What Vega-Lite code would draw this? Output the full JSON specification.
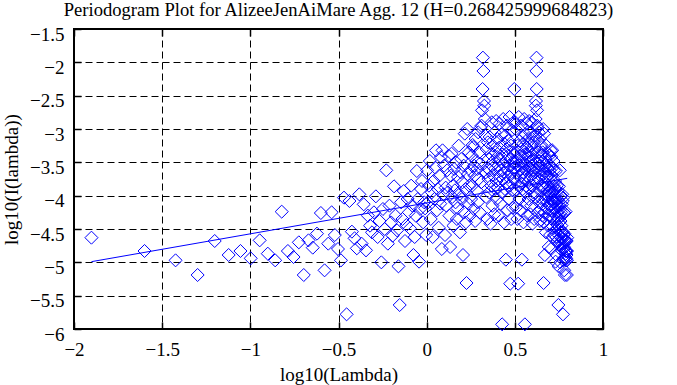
{
"$schema":"https://vega.github.io/schema/vega-lite/v6.json",
"width":529,"height":300,
"autosize":{"type":"none"},
"padding":{"left":74,"top":29,"right":74,"bottom":56},
"title":{"text":"Periodogram Plot for AlizeeJenAiMare Agg. 12 (H=0.268425999684823)","font":"Liberation Serif","fontSize":18.6,"fontWeight":"normal","color":"black","anchor":"middle","frame":"group","baseline":"alphabetic","offset":-10},
"config":{"view":{"stroke":"black","strokeWidth":2},
"axis":{"labelFont":"Liberation Serif","labelFontSize":19,"labelColor":"black","titleFont":"Liberation Serif","titleFontSize":19,"titleFontWeight":"normal","titleColor":"black","tickColor":"black","tickWidth":1.5,"domain":false,"labelOverlap":false}},
"datasets":{
"pts":[
{"x":-1.901,"y":-4.63},{"x":-1.600,"y":-4.83},{"x":-1.424,"y":-4.97},{"x":-1.299,"y":-5.19},{"x":-1.202,"y":-4.68},{"x":-1.123,"y":-4.89},{"x":-1.056,"y":-4.83},{"x":-0.998,"y":-4.94},{"x":-0.947,"y":-4.67},{"x":-0.901,"y":-4.87},
{"x":-0.859,"y":-4.97},{"x":-0.822,"y":-4.24},{"x":-0.787,"y":-4.83},{"x":-0.755,"y":-4.92},{"x":-0.725,"y":-4.70},{"x":-0.697,"y":-5.19},{"x":-0.670,"y":-4.67},{"x":-0.646,"y":-4.78},{"x":-0.622,"y":-4.57},{"x":-0.600,"y":-4.26},
{"x":-0.579,"y":-5.12},{"x":-0.558,"y":-4.72},{"x":-0.539,"y":-4.25},{"x":-0.521,"y":-4.59},{"x":-0.503,"y":-4.80},{"x":-0.486,"y":-4.97},{"x":-0.469,"y":-4.03},{"x":-0.454,"y":-5.78},{"x":-0.438,"y":-4.08},{"x":-0.424,"y":-4.54},
{"x":-0.409,"y":-4.64},{"x":-0.396,"y":-4.79},{"x":-0.382,"y":-3.98},{"x":-0.369,"y":-4.72},{"x":-0.357,"y":-4.13},{"x":-0.344,"y":-4.82},{"x":-0.333,"y":-4.30},{"x":-0.321,"y":-4.45},{"x":-0.310,"y":-4.55},{"x":-0.299,"y":-4.25},
{"x":-0.288,"y":-4.01},{"x":-0.278,"y":-4.62},{"x":-0.267,"y":-4.38},{"x":-0.257,"y":-5.00},{"x":-0.248,"y":-4.20},{"x":-0.238,"y":-4.50},{"x":-0.229,"y":-3.62},{"x":-0.220,"y":-4.72},{"x":-0.211,"y":-4.15},{"x":-0.202,"y":-4.40},
{"x":-0.193,"y":-4.60},{"x":-0.185,"y":-3.86},{"x":-0.177,"y":-4.30},{"x":-0.168,"y":-4.52},{"x":-0.160,"y":-5.06},{"x":-0.153,"y":-5.64},{"x":-0.145,"y":-4.10},{"x":-0.137,"y":-4.35},{"x":-0.130,"y":-3.93},{"x":-0.123,"y":-4.68},
{"x":-0.115,"y":-4.44},{"x":-0.108,"y":-4.05},{"x":-0.101,"y":-4.25},{"x":-0.095,"y":-4.49},{"x":-0.088,"y":-3.85},{"x":-0.081,"y":-4.15},{"x":-0.075,"y":-4.89},{"x":-0.068,"y":-4.62},{"x":-0.062,"y":-4.30},{"x":-0.056,"y":-3.63},
{"x":-0.050,"y":-4.05},{"x":-0.043,"y":-4.99},{"x":-0.037,"y":-4.20},{"x":-0.032,"y":-3.90},{"x":-0.026,"y":-3.78},{"x":-0.020,"y":-4.40},{"x":-0.014,"y":-4.10},{"x":-0.009,"y":-4.19},{"x":-0.003,"y":-4.59},{"x":0.002,"y":-3.62},
{"x":0.008,"y":-4.10},{"x":0.013,"y":-3.85},{"x":0.018,"y":-3.48},{"x":0.023,"y":-4.35},{"x":0.029,"y":-3.95},{"x":0.034,"y":-4.62},{"x":0.039,"y":-3.78},{"x":0.044,"y":-4.05},{"x":0.049,"y":-3.58},{"x":0.053,"y":-3.32},
{"x":0.058,"y":-4.22},{"x":0.063,"y":-3.90},{"x":0.068,"y":-4.48},{"x":0.072,"y":-3.70},{"x":0.077,"y":-4.12},{"x":0.081,"y":-3.42},{"x":0.086,"y":-4.80},{"x":0.090,"y":-3.32},{"x":0.095,"y":-3.98},{"x":0.099,"y":-3.55},
{"x":0.104,"y":-4.59},{"x":0.108,"y":-3.88},{"x":0.112,"y":-4.15},{"x":0.116,"y":-3.62},{"x":0.120,"y":-3.95},{"x":0.125,"y":-3.40},{"x":0.129,"y":-4.30},{"x":0.133,"y":-4.77},{"x":0.137,"y":-3.70},{"x":0.141,"y":-3.37},
{"x":0.145,"y":-4.02},{"x":0.148,"y":-3.85},{"x":0.152,"y":-4.45},{"x":0.156,"y":-3.60},{"x":0.160,"y":-3.92},{"x":0.164,"y":-4.10},{"x":0.167,"y":-3.50},{"x":0.171,"y":-4.35},{"x":0.175,"y":-4.19},{"x":0.178,"y":-3.72},
{"x":0.182,"y":-3.25},{"x":0.186,"y":-3.98},{"x":0.189,"y":-4.55},{"x":0.193,"y":-3.65},{"x":0.196,"y":-3.45},{"x":0.200,"y":-4.05},{"x":0.203,"y":-3.80},{"x":0.206,"y":-4.89},{"x":0.210,"y":-3.55},{"x":0.213,"y":-4.25},
{"x":0.216,"y":-3.07},{"x":0.220,"y":-3.90},{"x":0.223,"y":-4.40},{"x":0.226,"y":-5.31},{"x":0.230,"y":-3.00},{"x":0.233,"y":-3.68},{"x":0.236,"y":-4.12},{"x":0.239,"y":-3.35},{"x":0.242,"y":-3.85},{"x":0.245,"y":-4.30},
{"x":0.248,"y":-3.62},{"x":0.252,"y":-4.05},{"x":0.255,"y":-3.40},{"x":0.258,"y":-3.85},{"x":0.261,"y":-3.24},{"x":0.264,"y":-3.27},{"x":0.267,"y":-4.20},{"x":0.269,"y":-3.55},{"x":0.272,"y":-3.70},{"x":0.275,"y":-4.38},
{"x":0.278,"y":-3.15},{"x":0.281,"y":-3.48},{"x":0.284,"y":-3.92},{"x":0.287,"y":-3.60},{"x":0.290,"y":-4.10},{"x":0.292,"y":-3.05},{"x":0.295,"y":-3.75},{"x":0.298,"y":-3.35},{"x":0.301,"y":-4.25},{"x":0.303,"y":-3.52},
{"x":0.306,"y":-2.98},{"x":0.309,"y":-3.80},{"x":0.311,"y":-2.95},{"x":0.314,"y":-2.72},{"x":0.317,"y":-2.40},{"x":0.319,"y":-1.93},{"x":0.322,"y":-2.13},{"x":0.325,"y":-2.58},{"x":0.327,"y":-2.65},{"x":0.330,"y":-2.85},
{"x":0.332,"y":-3.10},{"x":0.335,"y":-3.65},{"x":0.337,"y":-4.02},{"x":0.340,"y":-3.30},{"x":0.342,"y":-3.58},{"x":0.345,"y":-4.35},{"x":0.347,"y":-3.20},{"x":0.350,"y":-3.75},{"x":0.352,"y":-3.45},{"x":0.354,"y":-3.95},
{"x":0.357,"y":-3.12},{"x":0.359,"y":-3.62},{"x":0.362,"y":-4.42},{"x":0.364,"y":-3.38},{"x":0.366,"y":-3.85},{"x":0.369,"y":-2.90},{"x":0.371,"y":-3.55},{"x":0.373,"y":-4.15},{"x":0.376,"y":-3.25},{"x":0.378,"y":-3.70},
{"x":0.380,"y":-3.48},{"x":0.383,"y":-4.28},{"x":0.385,"y":-3.05},{"x":0.387,"y":-3.60},{"x":0.389,"y":-3.90},{"x":0.391,"y":-3.35},{"x":0.394,"y":-2.88},{"x":0.396,"y":-3.78},{"x":0.398,"y":-4.05},{"x":0.400,"y":-3.42},
{"x":0.402,"y":-3.15},{"x":0.405,"y":-3.88},{"x":0.407,"y":-3.55},{"x":0.409,"y":-4.30},{"x":0.411,"y":-3.28},{"x":0.413,"y":-2.92},{"x":0.415,"y":-3.70},{"x":0.417,"y":-3.45},{"x":0.419,"y":-4.12},{"x":0.421,"y":-3.62},
{"x":0.423,"y":-3.08},{"x":0.426,"y":-3.95},{"x":0.428,"y":-5.93},{"x":0.430,"y":-3.38},{"x":0.432,"y":-3.75},{"x":0.434,"y":-2.85},{"x":0.436,"y":-3.52},{"x":0.438,"y":-4.40},{"x":0.440,"y":-3.22},{"x":0.442,"y":-3.65},
{"x":0.444,"y":-3.90},{"x":0.446,"y":-3.10},{"x":0.448,"y":-3.48},{"x":0.449,"y":-4.96},{"x":0.451,"y":-3.82},{"x":0.453,"y":-3.30},{"x":0.455,"y":-2.95},{"x":0.457,"y":-3.60},{"x":0.459,"y":-4.22},{"x":0.461,"y":-3.40},
{"x":0.463,"y":-3.72},{"x":0.465,"y":-3.18},{"x":0.467,"y":-4.05},{"x":0.468,"y":-3.55},{"x":0.470,"y":-2.82},{"x":0.472,"y":-3.85},{"x":0.474,"y":-5.32},{"x":0.476,"y":-3.45},{"x":0.478,"y":-3.25},{"x":0.479,"y":-4.35},
{"x":0.481,"y":-3.65},{"x":0.483,"y":-3.02},{"x":0.485,"y":-3.92},{"x":0.487,"y":-3.50},{"x":0.488,"y":-4.18},{"x":0.490,"y":-3.35},{"x":0.492,"y":-2.90},{"x":0.494,"y":-3.75},{"x":0.495,"y":-3.58},{"x":0.497,"y":-2.40},
{"x":0.499,"y":-3.58},{"x":0.501,"y":-3.75},{"x":0.502,"y":-2.90},{"x":0.504,"y":-3.35},{"x":0.506,"y":-4.18},{"x":0.507,"y":-3.50},{"x":0.509,"y":-3.92},{"x":0.511,"y":-3.02},{"x":0.513,"y":-3.65},{"x":0.514,"y":-4.35},
{"x":0.516,"y":-3.25},{"x":0.518,"y":-3.45},{"x":0.519,"y":-5.32},{"x":0.521,"y":-3.85},{"x":0.522,"y":-2.82},{"x":0.524,"y":-3.55},{"x":0.526,"y":-4.05},{"x":0.527,"y":-3.18},{"x":0.529,"y":-3.72},{"x":0.531,"y":-3.40},
{"x":0.532,"y":-4.22},{"x":0.534,"y":-3.60},{"x":0.535,"y":-2.95},{"x":0.537,"y":-3.30},{"x":0.539,"y":-3.82},{"x":0.540,"y":-4.96},{"x":0.542,"y":-3.48},{"x":0.543,"y":-3.10},{"x":0.545,"y":-3.90},{"x":0.546,"y":-3.65},
{"x":0.548,"y":-3.22},{"x":0.549,"y":-4.40},{"x":0.551,"y":-3.52},{"x":0.553,"y":-2.85},{"x":0.554,"y":-3.75},{"x":0.556,"y":-3.38},{"x":0.557,"y":-5.93},{"x":0.559,"y":-3.95},{"x":0.560,"y":-3.08},{"x":0.562,"y":-3.62},
{"x":0.563,"y":-4.12},{"x":0.565,"y":-3.45},{"x":0.566,"y":-3.70},{"x":0.568,"y":-2.92},{"x":0.569,"y":-3.28},{"x":0.571,"y":-4.30},{"x":0.572,"y":-3.55},{"x":0.573,"y":-3.88},{"x":0.575,"y":-3.15},{"x":0.576,"y":-3.42},
{"x":0.578,"y":-4.05},{"x":0.579,"y":-3.78},{"x":0.581,"y":-2.88},{"x":0.582,"y":-3.35},{"x":0.584,"y":-3.90},{"x":0.585,"y":-3.60},{"x":0.586,"y":-3.05},{"x":0.588,"y":-4.28},{"x":0.589,"y":-3.48},{"x":0.591,"y":-3.70},
{"x":0.592,"y":-3.25},{"x":0.593,"y":-4.15},{"x":0.595,"y":-3.55},{"x":0.596,"y":-2.90},{"x":0.598,"y":-3.85},{"x":0.599,"y":-3.38},{"x":0.600,"y":-4.42},{"x":0.602,"y":-3.62},{"x":0.603,"y":-3.12},{"x":0.604,"y":-3.95},
{"x":0.606,"y":-3.45},{"x":0.607,"y":-3.75},{"x":0.608,"y":-3.20},{"x":0.610,"y":-4.35},{"x":0.611,"y":-3.58},{"x":0.612,"y":-3.30},{"x":0.614,"y":-4.02},{"x":0.615,"y":-3.65},{"x":0.616,"y":-3.10},{"x":0.618,"y":-2.85},
{"x":0.619,"y":-2.65},{"x":0.620,"y":-2.58},{"x":0.622,"y":-2.13},{"x":0.623,"y":-1.93},{"x":0.624,"y":-2.40},{"x":0.626,"y":-2.72},{"x":0.627,"y":-2.95},{"x":0.628,"y":-3.80},{"x":0.629,"y":-2.98},{"x":0.631,"y":-3.52},
{"x":0.632,"y":-4.25},{"x":0.633,"y":-3.35},{"x":0.635,"y":-3.75},{"x":0.636,"y":-3.05},{"x":0.637,"y":-4.10},{"x":0.638,"y":-3.60},{"x":0.640,"y":-3.92},{"x":0.641,"y":-3.48},{"x":0.642,"y":-3.15},{"x":0.643,"y":-4.38},
{"x":0.645,"y":-3.70},{"x":0.646,"y":-3.55},{"x":0.647,"y":-4.20},{"x":0.648,"y":-3.27},{"x":0.649,"y":-3.24},{"x":0.651,"y":-3.85},{"x":0.652,"y":-3.40},{"x":0.653,"y":-4.05},{"x":0.654,"y":-3.62},{"x":0.656,"y":-4.30},
{"x":0.657,"y":-3.85},{"x":0.658,"y":-3.35},{"x":0.659,"y":-4.12},{"x":0.660,"y":-3.68},{"x":0.661,"y":-3.00},{"x":0.663,"y":-5.31},{"x":0.664,"y":-4.40},{"x":0.665,"y":-3.90},{"x":0.666,"y":-3.07},{"x":0.667,"y":-4.25},
{"x":0.669,"y":-3.55},{"x":0.670,"y":-4.89},{"x":0.671,"y":-3.80},{"x":0.672,"y":-4.05},{"x":0.673,"y":-3.45},{"x":0.674,"y":-3.65},{"x":0.676,"y":-4.55},{"x":0.677,"y":-3.98},{"x":0.678,"y":-3.25},{"x":0.679,"y":-3.72},
{"x":0.680,"y":-4.19},{"x":0.681,"y":-4.35},{"x":0.682,"y":-3.50},{"x":0.684,"y":-4.10},{"x":0.685,"y":-3.92},{"x":0.686,"y":-3.60},{"x":0.687,"y":-4.45},{"x":0.688,"y":-3.85},{"x":0.689,"y":-4.02},{"x":0.690,"y":-3.37},
{"x":0.691,"y":-3.70},{"x":0.692,"y":-4.77},{"x":0.694,"y":-4.30},{"x":0.695,"y":-3.40},{"x":0.696,"y":-3.95},{"x":0.697,"y":-3.62},{"x":0.698,"y":-4.15},{"x":0.699,"y":-3.88},{"x":0.700,"y":-4.59},{"x":0.701,"y":-3.55},
{"x":0.702,"y":-3.98},{"x":0.703,"y":-3.32},{"x":0.705,"y":-4.80},{"x":0.706,"y":-3.42},{"x":0.707,"y":-4.12},{"x":0.708,"y":-3.70},{"x":0.709,"y":-4.48},{"x":0.710,"y":-3.90},{"x":0.711,"y":-4.22},{"x":0.712,"y":-3.32},
{"x":0.713,"y":-3.58},{"x":0.714,"y":-4.05},{"x":0.715,"y":-3.78},{"x":0.716,"y":-4.62},{"x":0.717,"y":-3.95},{"x":0.718,"y":-4.35},{"x":0.719,"y":-3.48},{"x":0.720,"y":-3.85},{"x":0.721,"y":-4.10},{"x":0.722,"y":-3.62},
{"x":0.723,"y":-4.59},{"x":0.725,"y":-4.19},{"x":0.726,"y":-4.10},{"x":0.727,"y":-4.40},{"x":0.728,"y":-3.78},{"x":0.729,"y":-3.90},{"x":0.730,"y":-4.20},{"x":0.731,"y":-4.99},{"x":0.732,"y":-4.05},{"x":0.733,"y":-3.63},
{"x":0.734,"y":-4.30},{"x":0.735,"y":-4.62},{"x":0.736,"y":-4.89},{"x":0.737,"y":-4.15},{"x":0.738,"y":-3.85},{"x":0.739,"y":-4.49},{"x":0.740,"y":-4.25},{"x":0.741,"y":-4.05},{"x":0.742,"y":-4.44},{"x":0.743,"y":-4.68},
{"x":0.744,"y":-3.93},{"x":0.745,"y":-4.35},{"x":0.746,"y":-4.10},{"x":0.747,"y":-5.64},{"x":0.748,"y":-5.06},{"x":0.749,"y":-4.52},{"x":0.750,"y":-4.30},{"x":0.750,"y":-3.86},{"x":0.751,"y":-4.60},{"x":0.752,"y":-4.40},
{"x":0.753,"y":-4.15},{"x":0.754,"y":-4.72},{"x":0.755,"y":-3.62},{"x":0.756,"y":-4.50},{"x":0.757,"y":-4.20},{"x":0.758,"y":-5.00},{"x":0.759,"y":-4.38},{"x":0.760,"y":-4.62},{"x":0.761,"y":-4.01},{"x":0.762,"y":-4.25},
{"x":0.763,"y":-4.55},{"x":0.764,"y":-4.45},{"x":0.765,"y":-4.30},{"x":0.766,"y":-4.82},{"x":0.767,"y":-4.13},{"x":0.768,"y":-4.72},{"x":0.769,"y":-3.98},{"x":0.769,"y":-4.79},{"x":0.770,"y":-4.64},{"x":0.771,"y":-4.54},
{"x":0.772,"y":-4.08},{"x":0.773,"y":-5.78},{"x":0.774,"y":-4.03},{"x":0.775,"y":-4.97},{"x":0.776,"y":-4.80},{"x":0.777,"y":-4.59},{"x":0.778,"y":-4.25},{"x":0.779,"y":-4.72},{"x":0.780,"y":-5.12},{"x":0.780,"y":-4.26},
{"x":0.781,"y":-4.57},{"x":0.782,"y":-4.78},{"x":0.783,"y":-4.67},{"x":0.784,"y":-5.19},{"x":0.785,"y":-4.70},{"x":0.786,"y":-4.92},{"x":0.787,"y":-4.83},{"x":0.788,"y":-4.24},{"x":0.789,"y":-4.97},{"x":0.789,"y":-4.87},
{"x":0.790,"y":-4.67},{"x":0.791,"y":-4.94},{"x":0.792,"y":-4.83},{"x":0.793,"y":-4.89},{"x":0.794,"y":-4.68},{"x":0.795,"y":-5.19},{"x":0.796,"y":-4.97},{"x":0.796,"y":-4.83},{"x":0.797,"y":-4.63}
],
"fit":[{"x":-1.901,"y":-4.99},{"x":0.797,"y":-3.74}]
},
"layer":[
{"data":{"name":"pts"},
"mark":{"type":"point","shape":"diamond","size":170,"filled":false,"color":"#0000ff","strokeWidth":1,"opacity":1},
"encoding":{
"x":{"field":"x","type":"quantitative","scale":{"domain":[-2,1],"nice":false,"zero":false},
"axis":{"orient":"bottom","values":[-2,-1.5,-1,-0.5,0,0.5,1],"format":"~g","grid":true,"gridColor":"black","gridDash":[7,4],"gridWidth":1,"gridOpacity":1,"tickSize":-7,"labelPadding":33,"labelBaseline":"alphabetic","labelFlush":false,"labelFont":"Liberation Serif","labelFontSize":19,"title":"log10(Lambda)","titleBaseline":"alphabetic","titleX":264.5,"titleY":51,"titleAnchor":"middle"}},
"y":{"field":"y","type":"quantitative","scale":{"domain":[-6,-1.5],"nice":false,"zero":false},
"axis":{"orient":"left","values":[-6,-5.5,-5,-4.5,-4,-3.5,-3,-2.5,-2,-1.5],"format":"~g","grid":true,"gridColor":"black","gridDash":[7,4],"gridWidth":1,"gridOpacity":1,"tickSize":-7,"labelPadding":17,"labelAlign":"right","labelBaseline":"alphabetic","labelOffset":11,"labelFlush":false,"labelFont":"Liberation Serif","labelFontSize":19,"title":"log10(I(lambda))","titleAngle":-90,"titleBaseline":"alphabetic","titleX":-57,"titleY":150,"titleAnchor":"middle"}}
}},
{"data":{"name":"fit"},
"mark":{"type":"line","color":"#0000ff","strokeWidth":1},
"encoding":{
"x":{"field":"x","type":"quantitative","axis":{"orient":"top","values":[-2,-1.5,-1,-0.5,0,0.5,1],"labels":false,"grid":false,"tickSize":-7,"title":null}},
"y":{"field":"y","type":"quantitative","axis":{"orient":"right","values":[-6,-5.5,-5,-4.5,-4,-3.5,-3,-2.5,-2,-1.5],"labels":false,"grid":false,"tickSize":-7,"title":null}}
}}
],
"resolve":{"axis":{"x":"independent","y":"independent"}}
}
